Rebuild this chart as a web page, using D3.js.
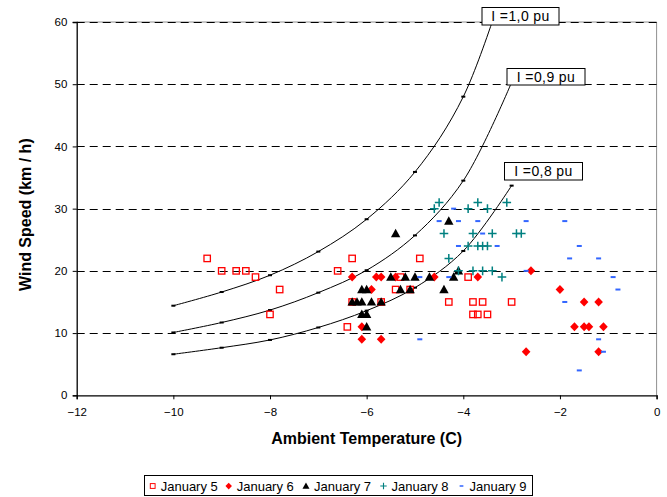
<!DOCTYPE html>
<html>
<head>
<meta charset="utf-8">
<script src="https://cdn.jsdelivr.net/npm/d3@7"></script>
<style>
  html, body { margin: 0; padding: 0; background: #fff; }
  svg { display: block; font-family: Arial, "Liberation Sans", sans-serif; }
</style>
</head>
<body>
<svg id="chart" width="667" height="497"></svg>
<script>
// ---------------- DATA ----------------
const xTicks = [-12, -10, -8, -6, -4, -2, 0];
const yTicks = [0, 10, 20, 30, 40, 50, 60];

// Ampacity curves (temperature vs wind speed)
const curveTemps = [-10, -9, -8, -7, -6, -5, -4, -3];
const curve10 = [14.4, 16.6, 19.3, 23.1, 28.3, 35.9, 48.0, 69.6];
const curve09 = [10.1, 11.7, 13.7, 16.5, 20.1, 25.7, 34.5, 50.3];
const curve08 = [6.6, 7.65, 8.9, 10.9, 13.6, 17.3, 23.2, 33.7];
const curveLabels = ["I =1,0 pu", "I =0,9 pu", "I =0,8 pu"];

// Observations [temperature, wind speed]
const jan5 = [[-9.3,22],[-9.0,20],[-8.7,20],[-8.5,20],[-8.3,19],[-7.8,17],[-8.0,13],
  [-6.3,22],[-6.6,20],[-6.3,15],[-5.7,15],[-5.4,17],[-6.4,11],[-5.3,19],[-4.9,22],
  [-5.1,17],[-3.9,19],[-4.3,15],[-3.8,15],[-3.6,15],[-3.8,13],[-3.7,13],[-3.5,13],[-3.0,15]];
const jan6 = [[-6.3,19],[-5.8,19],[-5.7,19],[-5.4,19],[-5.9,17],[-6.1,11],[-6.1,9],[-5.7,9],
  [-4.6,19],[-3.7,19],[-2.6,20],[-2.0,17],[-1.5,15],[-1.2,15],[-1.7,11],[-1.5,11],
  [-1.4,11],[-1.1,11],[-2.7,7],[-1.2,7]];
const jan7 = [[-5.4,26],[-5.5,19],[-5.2,19],[-6.1,17],[-6.0,17],[-5.3,17],[-6.3,15],[-6.2,15],
  [-6.1,15],[-5.9,15],[-5.7,15],[-6.1,13],[-6.0,13],[-6.0,11],[-4.3,28],[-5.0,19],
  [-4.7,19],[-4.2,19],[-5.1,17],[-4.4,17],[-4.1,20]];
const jan8 = [[-4.5,31],[-4.6,30],[-3.9,30],[-3.7,31],[-3.5,30],[-4.4,26],[-3.8,26],[-3.4,26],
  [-3.9,24],[-3.7,24],[-3.6,24],[-3.5,24],[-4.3,22],[-4.1,20],[-3.8,20],[-3.6,20],
  [-3.4,20],[-3.2,19],[-3.1,31],[-2.9,26],[-2.8,26]];
const jan9 = [[-4.2,30],[-4.5,28],[-4.1,28],[-3.7,28],[-3.6,26],[-4.1,24],[-3.3,24],[-4.9,19],
  [-4.3,19],[-4.9,9],[-2.7,28],[-1.9,28],[-1.6,24],[-1.8,22],[-1.2,22],[-2.7,20],
  [-0.9,19],[-0.8,17],[-1.9,15],[-1.2,9],[-1.1,7],[-1.6,4]];
const seriesNames = ["January 5", "January 6", "January 7", "January 8", "January 9"];

// ---------------- CHART ----------------
const svg = d3.select("#chart");
const L = 76.7, R = 656.6, T = 22, B = 395.3;
const x = d3.scaleLinear().domain([-12, 0]).range([L, R]);
const y = d3.scaleLinear().domain([0, 60]).range([B, T]);

svg.append("defs").append("clipPath").attr("id", "plotclip")
  .append("rect").attr("x", L).attr("y", T).attr("width", R - L).attr("height", B - T);

// plot border (grey top/right)
svg.append("path")
  .attr("d", `M${L},${T}H${R}V${B}`)
  .attr("fill", "none").attr("stroke", "#909090").attr("stroke-width", 1);

// gridlines
svg.append("g").selectAll("line").data(yTicks.filter(v => v > 0)).join("line")
  .attr("x1", L).attr("x2", R)
  .attr("y1", d => Math.round(y(d)) + 0.5).attr("y2", d => Math.round(y(d)) + 0.5)
  .attr("stroke", "#000").attr("stroke-width", 1).attr("stroke-dasharray", "8,5");

// axes
const xAxis = d3.axisBottom(x).tickValues(xTicks).tickSize(4).tickFormat(d3.format("d"));
const yAxis = d3.axisLeft(y).tickValues(yTicks).tickSize(4).tickFormat(d3.format("d"));
const gx = svg.append("g").attr("transform", `translate(0,${B})`).call(xAxis);
const gy = svg.append("g").attr("transform", `translate(${L},0)`).call(yAxis);
[gx, gy].forEach(g => {
  g.select(".domain").attr("stroke", "#000").attr("stroke-width", 1.3);
  g.selectAll(".tick line").attr("stroke", "#000");
  g.selectAll("text").attr("font-size", 11.5).attr("fill", "#000")
    .attr("font-family", "Arial, 'Liberation Sans', sans-serif");
});
gx.selectAll("text").attr("dy", "1.15em");
gy.selectAll("text").attr("dx", "-0.2em");

// axis titles
svg.append("text").attr("x", (L + R) / 2).attr("y", 444).attr("text-anchor", "middle")
  .attr("font-size", 16).attr("font-weight", "bold").text("Ambient Temperature (C)");
svg.append("text").attr("transform", `translate(31,${(T + B) / 2 + 6}) rotate(-90)`)
  .attr("text-anchor", "middle").attr("font-size", 16).attr("font-weight", "bold")
  .text("Wind Speed (km / h)");

// curves
const curveSets = [curve10, curve09, curve08];
const lineGen = d3.line().x(d => x(d[0])).y(d => y(d[1])).curve(d3.curveCatmullRom.alpha(0.5));
const curveG = svg.append("g").attr("clip-path", "url(#plotclip)");
curveSets.forEach(vals => {
  const pts = curveTemps.map((t, i) => [t, vals[i]]);
  curveG.append("path").datum(pts).attr("d", lineGen)
    .attr("fill", "none").attr("stroke", "#000").attr("stroke-width", 1);
  curveG.selectAll(null).data(pts).join("rect")
    .attr("x", d => x(d[0]) - 2).attr("y", d => y(d[1]) - 1)
    .attr("width", 4).attr("height", 2).attr("fill", "#000");
});

// scatter markers
const symbols = {
  square: g => g.append("rect").attr("x", -3.2).attr("y", -3.2).attr("width", 6.4).attr("height", 6.4)
    .attr("fill", "none").attr("stroke", "#FF0000").attr("stroke-width", 1.3),
  diamond: g => g.append("path").attr("d", "M0,-4.5L4.3,0L0,4.5L-4.3,0Z").attr("fill", "#FF0000"),
  triangle: g => g.append("path").attr("d", "M0,-4.8L4.7,3.6L-4.7,3.6Z").attr("fill", "#000"),
  plus: g => g.append("path").attr("d", "M-4.3,0H4.3M0,-4.3V4.3").attr("stroke", "#008080")
    .attr("stroke-width", 1.5).attr("fill", "none"),
  dash: g => g.append("rect").attr("x", -2.5).attr("y", -1).attr("width", 5).attr("height", 2)
    .attr("fill", "#3366FF")
};
const seriesData = [jan5, jan6, jan7, jan8, jan9];
const seriesSym = ["square", "diamond", "triangle", "plus", "dash"];
seriesData.forEach((data, si) => {
  const g = svg.append("g");
  data.forEach(d => {
    const m = g.append("g").attr("transform", `translate(${x(d[0])},${y(d[1])})`);
    symbols[seriesSym[si]](m);
  });
});

// curve labels
const labelBoxes = [
  {x: 482, y: 7.5, w: 77, h: 17.5},
  {x: 507, y: 68.5, w: 78, h: 16.5},
  {x: 504.5, y: 162.5, w: 78, h: 17.5}
];
labelBoxes.forEach((b, i) => {
  svg.append("rect").attr("x", b.x).attr("y", b.y).attr("width", b.w).attr("height", b.h)
    .attr("fill", "#fff").attr("stroke", "#000").attr("stroke-width", 1);
  svg.append("text").attr("x", b.x + b.w / 2).attr("y", b.y + b.h / 2 + 5)
    .attr("text-anchor", "middle").attr("font-size", 14).attr("letter-spacing", 0.4)
    .text(curveLabels[i]);
});

// legend
svg.append("rect").attr("x", 144.5).attr("y", 475.5).attr("width", 388).attr("height", 20)
  .attr("fill", "#fff").attr("stroke", "#000").attr("stroke-width", 1);
const legX = [152.7, 228.7, 306, 383.5, 461.5];
seriesNames.forEach((name, i) => {
  const m = svg.append("g").attr("transform", `translate(${legX[i]},486) scale(0.75)`);
  symbols[seriesSym[i]](m);
  svg.append("text").attr("x", legX[i] + 8).attr("y", 490.5).attr("font-size", 13).text(name);
});
</script>
</body>
</html>
